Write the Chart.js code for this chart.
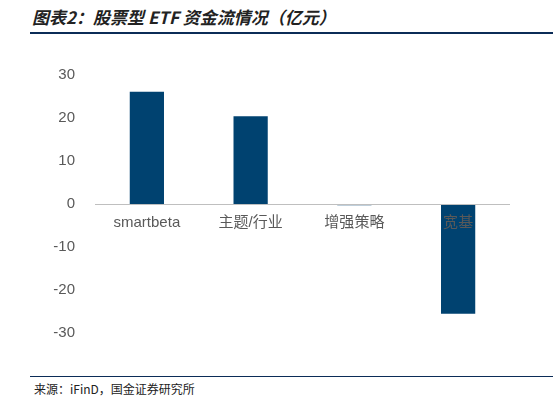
<!DOCTYPE html>
<html>
<head>
<meta charset="utf-8">
<script src="https://cdn.jsdelivr.net/npm/chart.js@4"></script>
<style>
  body { margin: 0; width: 559px; height: 406px; background: #fff; font-family: "Noto Sans CJK SC", sans-serif; position: relative; }
  #title { position: absolute; left: 32px; top: 4px; font-size: 17px; font-weight: bold; font-style: italic; color: #222; }
  #topline { position: absolute; left: 30px; right: 6px; top: 32px; border-top: 2px solid #0b2c57; }
  #wrap { position: absolute; left: 50px; top: 54px; width: 460px; height: 300px; }
  #botline { position: absolute; left: 30px; right: 6px; top: 376px; border-top: 1px solid #0b2c57; }
  #source { position: absolute; left: 34px; top: 380px; font-size: 12px; color: #222; }
</style>
</head>
<body>
<div id="title">图表2：股票型 ETF 资金流情况（亿元）</div>
<div id="topline"></div>
<div id="wrap"><canvas id="chart"></canvas></div>
<div id="botline"></div>
<div id="source">来源：iFinD，国金证券研究所</div>
<script>
// Data
const categories = ['smartbeta', '主题/行业', '增强策略', '宽基'];
const flows = [26.1, 20.4, -0.3, -25.5];
const yTicks = [30, 20, 10, 0, -10, -20, -30];

// category labels sit just under the zero line
const zeroLabels = {
  id: 'zeroLabels',
  afterDatasetsDraw(chart) {
    const ctx = chart.ctx;
    const x = chart.scales.x, y = chart.scales.y;
    const y0 = y.getPixelForValue(0);
    ctx.save();
    ctx.strokeStyle = '#bfbfbf';
    ctx.lineWidth = 1;
    ctx.beginPath();
    ctx.moveTo(x.left, y0 + 0.5);
    ctx.lineTo(x.right, y0 + 0.5);
    ctx.stroke();
    ctx.font = '15px "Liberation Sans", "Noto Sans CJK SC", sans-serif';
    ctx.fillStyle = '#595959';
    ctx.textAlign = 'center';
    ctx.textBaseline = 'top';
    categories.forEach((c, i) => ctx.fillText(c, x.getPixelForValue(i), y0 + 11));
    ctx.restore();
  }
};

new Chart(document.getElementById('chart').getContext('2d'), {
  type: 'bar',
  data: {
    labels: categories,
    datasets: [{
      data: flows,
      backgroundColor: '#004270',
      categoryPercentage: 0.33,
      barPercentage: 1
    }]
  },
  options: {
    responsive: true,
    maintainAspectRatio: false,
    animation: false,
    layout: { padding: { top: 10, bottom: 12, right: 0, left: 0 } },
    plugins: { legend: { display: false }, tooltip: { enabled: false } },
    scales: {
      x: {
        grid: { display: false },
        border: { display: false },
        ticks: { display: false }
      },
      y: {
        min: -30, max: 30,
        afterBuildTicks: (s) => { s.ticks = yTicks.map(v => ({ value: v })); },
        afterFit: (s) => { s.width = 45; },
        grid: { display: false },
        border: { display: false },
        ticks: { color: '#595959', font: { size: 15, family: 'Liberation Sans' }, padding: 12 }
      }
    }
  },
  plugins: [zeroLabels]
});
</script>
</body>
</html>
